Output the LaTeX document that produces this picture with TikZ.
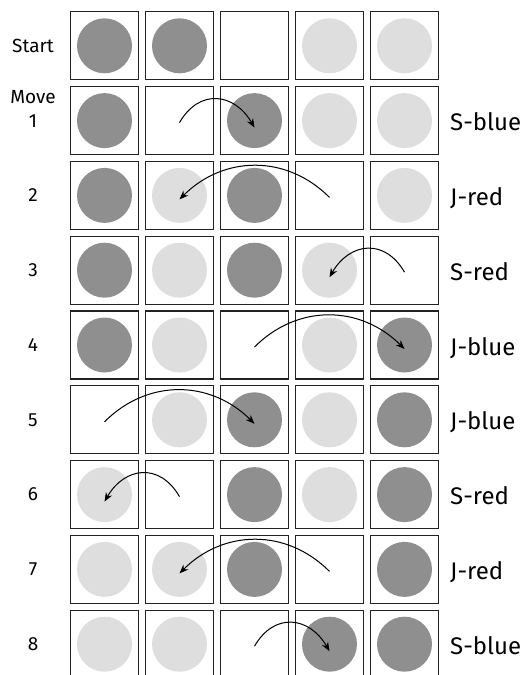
\documentclass[tikz,border=0pt]{standalone}
\usepackage{fontspec}
\setmainfont{Fira Sans}
\usetikzlibrary{arrows.meta}
\definecolor{bluedisc}{HTML}{8F8F8F}
\definecolor{reddisc}{HTML}{DEDEDE}
\definecolor{cellline}{HTML}{222222}

\tikzset{
  cell/.style={draw=cellline, line width=1.2pt, fill=white, minimum size=68pt, inner sep=0pt},
  bluecell/.style={cell, path picture={\fill[bluedisc] (path picture bounding box.center) circle (27.5pt);}},
  redcell/.style={cell, path picture={\fill[reddisc] (path picture bounding box.center) circle (27.5pt);}},
  emptycell/.style={cell},
  rowlabel/.style={font=\fontsize{19}{24}\selectfont, align=center, inner sep=0pt},
  movelabel/.style={font=\fontsize{24}{28}\selectfont, anchor=base west, inner sep=0pt},
  jump/.style={-{Stealth[length=9pt,width=7pt]}, line width=1pt},
}

\begin{document}
\begin{tikzpicture}[x=1pt, y=1pt]
  \useasboundingbox (0,0) rectangle (523,-675);
  \clip (0,0) rectangle (523,-675);

  % Board states, one row per move
  \foreach \r/\row in {
      0/{bluecell,bluecell,emptycell,redcell,redcell},
      1/{bluecell,emptycell,bluecell,redcell,redcell},
      2/{bluecell,redcell,bluecell,emptycell,redcell},
      3/{bluecell,redcell,bluecell,redcell,emptycell},
      4/{bluecell,redcell,emptycell,redcell,bluecell},
      5/{emptycell,redcell,bluecell,redcell,bluecell},
      6/{redcell,emptycell,bluecell,redcell,bluecell},
      7/{redcell,redcell,bluecell,emptycell,bluecell},
      8/{redcell,redcell,emptycell,bluecell,bluecell}} {
    \foreach \s [count=\c] in \row
      \node[\s] (c\r\c) at ({104.5+75*(\c-1)}, {-45.8-74.8*\r}) {};
  }

  % Row labels
  \node[rowlabel] (start) at (33, -45.8) {Start};
  \node[rowlabel] (n1) at (33, -108.5) {Move\\1};
  \foreach \r in {2,...,8}
    \node[rowlabel] (n\r) at (33, {-45.8-74.8*\r}) {\r};

  % Move names
  \foreach \r/\t in {1/S-blue, 2/J-red, 3/S-red, 4/J-blue, 5/J-blue, 6/S-red, 7/J-red, 8/S-blue}
    \node[movelabel] (m\r) at (450, {-45.8-74.8*\r-10}) {\t};

  % Slides and jumps
  \draw[jump] ([yshift=-2pt]c12.center) to[out=60, in=120, looseness=1.36] ([yshift=-7pt]c13.center);
  \draw[jump] ([yshift=-2pt]c24.center) to[out=135, in=45, looseness=1.05] ([yshift=-4pt]c22.center);
  \draw[jump] ([yshift=-2pt]c35.center) to[out=120, in=60, looseness=1.36] ([yshift=-7pt]c34.center);
  \draw[jump] ([yshift=-2pt]c43.center) to[out=45, in=135, looseness=1.05] ([yshift=-4pt]c45.center);
  \draw[jump] ([yshift=-2pt]c51.center) to[out=45, in=135, looseness=1.05] ([yshift=-4pt]c53.center);
  \draw[jump] ([yshift=-2pt]c62.center) to[out=120, in=60, looseness=1.36] ([yshift=-7pt]c61.center);
  \draw[jump] ([yshift=-2pt]c74.center) to[out=135, in=45, looseness=1.05] ([yshift=-4pt]c72.center);
  \draw[jump] ([yshift=-2pt]c83.center) to[out=60, in=120, looseness=1.36] ([yshift=-7pt]c84.center);
\end{tikzpicture}
\end{document}
